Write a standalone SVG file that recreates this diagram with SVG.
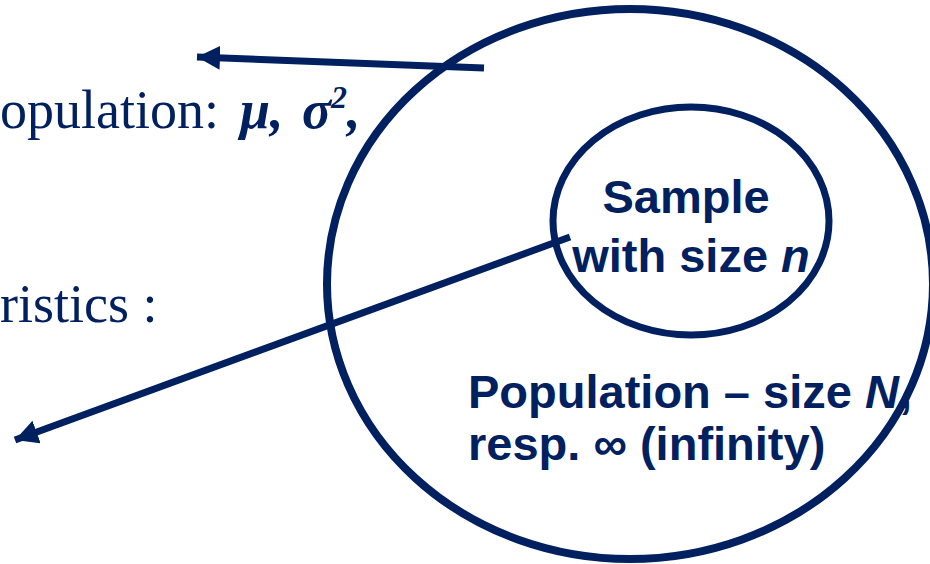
<svg xmlns="http://www.w3.org/2000/svg" width="930" height="564" viewBox="0 0 930 564">
<style>
.serif{font-family:"Liberation Serif","Times New Roman",serif;font-size:54px;fill:#002060}
.bi{font-weight:bold;font-style:italic}
.sans{font-family:"Liberation Sans",Arial,sans-serif;font-size:47px;font-weight:bold;fill:#002060}
.ring{fill:none;stroke:#002060}
.line{stroke:#002060;stroke-width:7;fill:none}
</style>
<defs>
<marker id="ah" markerUnits="userSpaceOnUse" markerWidth="26" markerHeight="26" refX="23" refY="12" orient="auto">
<path d="M0,0 L23,12 L0,24 Z" fill="#002060"/>
</marker>
</defs>
<rect width="930" height="564" fill="#ffffff"/>
<g id="population">
<ellipse class="ring" cx="630" cy="284" rx="303" ry="275" stroke-width="8"/>
<text class="sans" x="468" y="408">Population – size <tspan font-style="italic">N</tspan>,</text>
<text class="sans" x="468" y="460">resp. ∞ (infinity)</text>
</g>
<g id="sample">
<ellipse class="ring" cx="691" cy="221" rx="138" ry="114" stroke-width="7"/>
<text class="sans" x="686" y="213" text-anchor="middle">Sample</text>
<text class="sans" x="691" y="272" text-anchor="middle">with size <tspan font-style="italic">n</tspan></text>
</g>
<g id="params">
<text class="serif" x="0" y="128">opulation:<tspan class="bi" x="240">μ,</tspan><tspan class="bi" x="302">σ</tspan><tspan class="bi" font-size="32" dy="-20">2</tspan><tspan class="bi" dy="20">,</tspan></text>
</g>
<g id="stats">
<text class="serif" x="0" y="322">ristics :</text>
</g>
<g id="connectors">
<line class="line" x1="484" y1="68" x2="197" y2="57" marker-end="url(#ah)"/>
<line class="line" x1="570" y1="237" x2="15" y2="440" marker-end="url(#ah)"/>
</g>
</svg>
